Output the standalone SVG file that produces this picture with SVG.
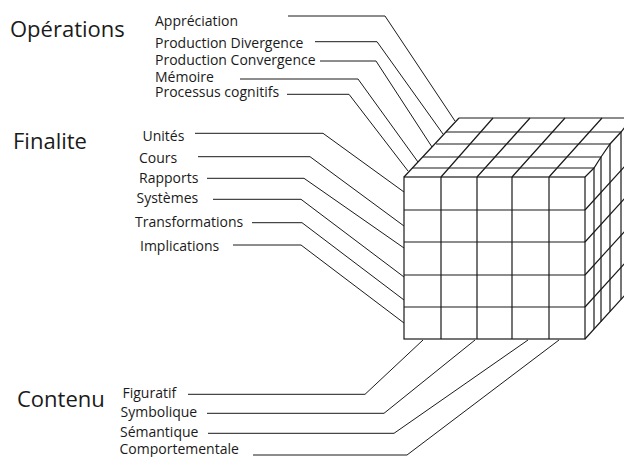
<svg xmlns="http://www.w3.org/2000/svg" width="624" height="457" viewBox="0 0 624 457">
<style>
.t{font-family:"Open Sans","Liberation Sans",sans-serif;font-size:14px;fill:#1a1a1a}
.h{font-family:"Open Sans","Liberation Sans",sans-serif;font-size:22px;fill:#1a1a1a}
.c{fill:none;stroke:#1a1a1a;stroke-width:1.2;stroke-linejoin:miter}
.l{fill:none;stroke:#1a1a1a;stroke-width:1}
</style>
<rect width="624" height="457" fill="#fff"/>
<g id="titles">
<text id="t-operations" class="h" x="10" y="37">Opérations</text>
<text id="t-finalite" class="h" x="13" y="149">Finalite</text>
<text id="t-contenu" class="h" x="17" y="407">Contenu</text>
</g>
<g id="operations">
<g id="op-appreciation"><text class="t" x="155" y="26">Appréciation</text></g>
<g id="op-divergence"><text class="t" x="155" y="47.5">Production Divergence</text></g>
<g id="op-convergence"><text class="t" x="155" y="65">Production Convergence</text></g>
<g id="op-memoire"><text class="t" x="155" y="82">Mémoire</text></g>
<g id="op-processus"><text class="t" x="155" y="96.5">Processus cognitifs</text></g>
</g>
<g id="finalite">
<g id="f-unites"><text class="t" x="142.5" y="140.5">Unités</text></g>
<g id="f-cours"><text class="t" x="139" y="162.5">Cours</text></g>
<g id="f-rapports"><text class="t" x="139" y="182.5">Rapports</text></g>
<g id="f-systemes"><text class="t" x="136.5" y="203">Systèmes</text></g>
<g id="f-transformations"><text class="t" x="135" y="226.5">Transformations</text></g>
<g id="f-implications"><text class="t" x="140" y="250.5">Implications</text></g>
</g>
<g id="contenu">
<g id="c-figuratif"><text class="t" x="122.5" y="398">Figuratif</text></g>
<g id="c-symbolique"><text class="t" x="120.5" y="416.5">Symbolique</text></g>
<g id="c-semantique"><text class="t" x="120" y="436.5">Sémantique</text></g>
<g id="c-comportementale"><text class="t" x="119.5" y="453.5">Comportementale</text></g>
</g>
<g id="cube" class="c">
<rect x="404" y="177" width="181" height="162"/>
<path d="M441 177V339M477 177V339M512 177V339M549 177V339M404 210H585M404 242H585M404 275H585M404 307H585"/>
<path d="M404 177L459 118M441 177L493 118M477 177L530 118M512 177L565 118M549 177L602 118"/>
<path d="M459 118H640M446 132H621M436 144H610M423 157H601M412 168H594"/>
<path d="M585 177L594 168L601 157L610 144L621 132L632 118"/>
<path d="M594 168V329M601 157V321.5M610 144V311.5M621 132V299.5"/>
<path d="M585 210L630 160.5M585 242L630 192.5M585 275L630 225.5M585 307L630 257.5M585 339L630 289.5"/>
</g>
<g id="connectors" class="l">
<polyline points="288,16 385,16 455,121"/>
<polyline points="315,41.7 377,41.7 443,134"/>
<polyline points="320,61 376,61 432,147"/>
<polyline points="240,79 358,79 418,162"/>
<polyline points="287,94.3 349,94.3 408,171"/>
<polyline points="195,133.3 323,133.3 404,192"/>
<polyline points="198,156.7 310,156.7 404,226"/>
<polyline points="207,178.3 304,178.3 404,248"/>
<polyline points="213,199.3 301,199.3 404,277"/>
<polyline points="252,222.7 302,222.7 404,300"/>
<polyline points="233,245 301,245 404,323"/>
<polyline points="188,394.3 365,394.3 423,340"/>
<polyline points="207,413.3 384,413.3 475,340"/>
<polyline points="208,433.3 394,433.3 528,340"/>
<polyline points="253,455 407,455 559,340"/>
</g>
</svg>
